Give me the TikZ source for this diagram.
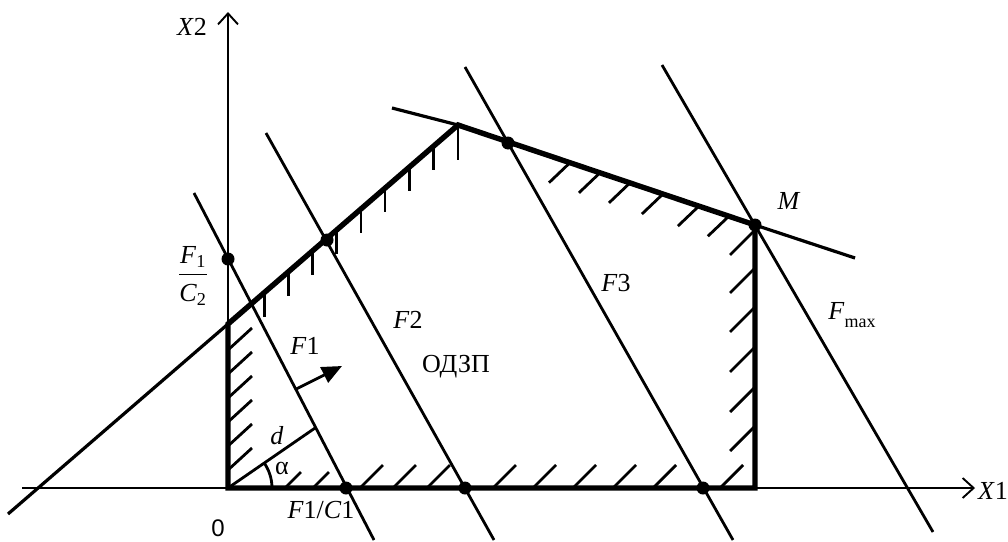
\documentclass[tikz,border=0pt]{standalone}
\usepackage{amsmath}
\usepackage{fontspec}
\setmainfont{Liberation Serif}
\setsansfont{Liberation Sans}
\usetikzlibrary{positioning, arrows.meta, calc}

\begin{document}
\begin{tikzpicture}[
    x=1pt, y=-1pt,
    axis/.style={line width=1.9pt, -{Straight Barb[length=11pt, width=20pt, line width=1.9pt]}},
    bound/.style={line width=3.2pt},
    region/.style={line width=5.4pt, line join=miter},
    level/.style={line width=2.8pt},
    hatch/.style={line width=2.8pt},
    dot/.style={circle, fill=black, inner sep=0pt, minimum size=13pt},
    lbl/.style={font=\fontsize{26}{30}\selectfont, inner sep=0pt}
]
    \useasboundingbox (0,0) rectangle (1008,541);

    % corners of the feasible region
    \coordinate (O) at (228,488);
    \coordinate (A) at (228,324);
    \coordinate (B) at (458,125);
    \coordinate (M) at (755,225);
    \coordinate (C) at (755,488);

    % axes
    \coordinate (x1s) at (22,488);
    \coordinate (x1e) at (975,488);
    \coordinate (x2e) at (228,12);
    \draw[axis] (x1s) -- (x1e);
    \draw[axis] (O) -- (x2e);

    % constraint lines
    \coordinate (c1s) at (8,514);
    \coordinate (c2s) at (392,108);
    \coordinate (c2e) at (855,258);
    \draw[bound] (c1s) -- (A);
    \draw[bound] (c2s) -- (B);
    \draw[bound] (M) -- (c2e);
    \draw[region] (O) -- (A) -- (B) -- (M) -- (C) -- cycle;

    % hatching
    \foreach \t in {0.157,0.262,0.367,0.473,0.578,0.683,0.789,0.894}
        \draw[hatch] ($(A)!\t!(B)$) -- ++(0,24);
    \draw[hatch] (B) -- ++(0,35);
    \foreach \t in {0.377,0.478,0.579,0.690,0.811,0.912}
        \draw[hatch] ($(B)!\t!(M)$) -- ++(-21,20);
    \foreach \y in {230,268,307,347,387,426}
        \draw[hatch] (755,\y) -- ++(-25,25);
    \foreach \y in {350,374,398,422,446,470}
        \draw[hatch] (228,\y) -- ++(24,-22);
    \foreach \x in {285,313}
        \draw[hatch] (\x,488) -- ++(16,-16);
    \foreach \x in {360,393,427,493,533,573,613,653,720}
        \draw[hatch] (\x,488) -- ++(23,-23);

    % level lines of the objective
    \coordinate (f1t) at (194,193);
    \coordinate (f1b) at (374,540);
    \coordinate (f2t) at (266,133);
    \coordinate (f2b) at (494,540);
    \coordinate (f3t) at (465,67);
    \coordinate (f3b) at (733,540);
    \coordinate (fmt) at (662,65);
    \coordinate (fmb) at (933,532);
    \draw[level] (f1t) -- (f1b);
    \draw[level] (f2t) -- (f2b);
    \draw[level] (f3t) -- (f3b);
    \draw[level] (fmt) -- (fmb);

    % touching points
    \node[dot] (p1) at (228,259) {};
    \node[dot] (p2) at (346,488) {};
    \node[dot] (p3) at (327,240) {};
    \node[dot] (p4) at (465,488) {};
    \node[dot] (p5) at (508,143) {};
    \node[dot] (p6) at (703,488) {};
    \node[dot] (pM) at (M) {};

    % distance d, angle and gradient direction
    \coordinate (dft) at ($(p1.center)!0.738!(p2.center)$);
    \draw[level] (O) -- (dft);
    \draw[level] ($(O)+(44,0)$) arc[start angle=0, end angle=-35, radius=44];
    \coordinate (nb) at ($(p1.center)!0.57!(p2.center)$);
    \coordinate (ne) at (342,366);
    \draw[level, -{Triangle[length=20pt, width=17pt]}] (nb) -- (ne);

    % labels
    \node[lbl] (lX2) at (192,27) {\textit{X}2};
    \node[lbl, anchor=west] (lX1) at (978,491) {\textit{X}1};
    \node[lbl] (lfr) at (193,276) {$\dfrac{\mbox{\textit{F}\textsubscript{1}}}{\rule{0pt}{24pt}\mbox{\textit{C}\textsubscript{2}}}$};
    \node[lbl] (lF1) at (305,346) {\textit{F}1};
    \node[lbl] (lF2) at (408,320) {\textit{F}2};
    \node[lbl] (lodz) at (456,367) {ОДЗП};
    \node[lbl] (ld) at (277,436) {\textit{d}};
    \node[lbl] (lal) at (282,468) {α};
    \node[lbl] (lF1C1) at (321,510) {\textit{F}1/\textit{C}1};
    \node[lbl, font=\sffamily\fontsize{24}{28}\selectfont] (l0) at (218,528) {0};
    \node[lbl] (lF3) at (616,283) {\textit{F}3};
    \node[lbl] (lM) at (789,201) {\textit{M}};
    \node[lbl] (lFm) at (852,315) {\textit{F}{\fontsize{18}{18}\selectfont\raisebox{-8pt}{max}}};
\end{tikzpicture}
\end{document}
